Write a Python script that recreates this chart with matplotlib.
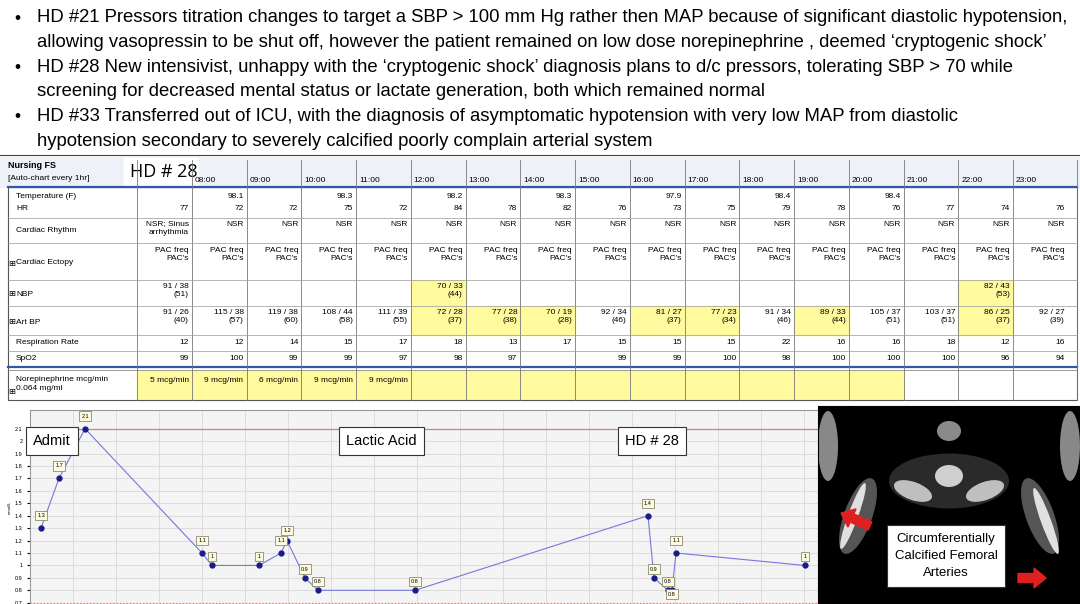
import matplotlib
matplotlib.use("Agg")
import matplotlib.pyplot as plt
from matplotlib.patches import Rectangle, Ellipse, FancyArrow

W, H = 1080, 604

# ---- text ----
bullets = [
    ["HD #21 Pressors titration changes to target a SBP > 100 mm Hg rather then MAP because of significant diastolic hypotension,",
     "allowing vasopressin to be shut off, however the patient remained on low dose norepinephrine , deemed \u2018cryptogenic shock\u2019"],
    ["HD #28 New intensivist, unhappy with the \u2018cryptogenic shock\u2019 diagnosis plans to d/c pressors, tolerating SBP > 70 while",
     "screening for decreased mental status or lactate generation, both which remained normal"],
    ["HD #33 Transferred out of ICU, with the diagnosis of asymptomatic hypotension with very low MAP from diastolic",
     "hypotension secondary to severely calcified poorly complain arterial system"],
]

# ---- flowsheet ----
hours = ["", "08:00", "09:00", "10:00", "11:00", "12:00", "13:00", "14:00", "15:00",
         "16:00", "17:00", "18:00", "19:00", "20:00", "21:00", "22:00", "23:00"]
temp = ["", "98.1", "", "98.3", "", "98.2", "", "98.3", "", "97.9", "", "98.4", "", "98.4", "", "", ""]
hr = [77, 72, 72, 75, 72, 84, 78, 82, 76, 73, 75, 79, 78, 76, 77, 74, 76]
rhythm = ["NSR; Sinus\narrhythmia"] + ["NSR"] * 16
ectopy = ["PAC freq\nPAC's"] * 17
nbp = {0: "91 / 38\n(51)", 5: "70 / 33\n(44)", 15: "82 / 43\n(53)"}
nbp_low = [5, 15]
art_bp = ["91 / 26\n(40)", "115 / 38\n(57)", "119 / 38\n(60)", "108 / 44\n(58)", "111 / 39\n(55)",
          "72 / 28\n(37)", "77 / 28\n(38)", "70 / 19\n(28)", "92 / 34\n(46)", "81 / 27\n(37)",
          "77 / 23\n(34)", "91 / 34\n(46)", "89 / 33\n(44)", "105 / 37\n(51)", "103 / 37\n(51)",
          "86 / 25\n(37)", "92 / 27\n(39)"]
art_low = [5, 6, 7, 9, 10, 12, 15]
resp = [12, 12, 14, 15, 17, 18, 13, 17, 15, 15, 15, 22, 16, 16, 18, 12, 16]
spo2 = [99, 100, 99, 99, 97, 98, 97, "", 99, 99, 100, 98, 100, 100, 100, 96, 94]
norepi = ["5 mcg/min", "9 mcg/min", "6 mcg/min", "9 mcg/min", "9 mcg/min"]
norepi_cols = 14

# ---- lactic acid trend ----
lac_x = [41, 59, 85, 202, 212, 259, 281, 287, 305, 318, 415, 648, 654, 668, 672, 676, 805]
lac_y = [1.3, 1.7, 2.1, 1.1, 1.0, 1.0, 1.1, 1.2, 0.9, 0.8, 0.8, 1.4, 0.9, 0.8, 0.8, 1.1, 1.0]
lac_lbl_dy = [0.1, 0.1, 0.1, 0.1, 0.07, 0.07, 0.1, 0.08, 0.07, 0.07, 0.07, 0.1, 0.07, 0.07, -0.03, 0.1, 0.07]

fig = plt.figure(figsize=(W / 100, H / 100), dpi=100)
plt.rcParams["font.family"] = "Liberation Sans"


def px_axes(x, y, w, h, z=1):
    return fig.add_axes([x / W, 1 - (y + h) / H, w / W, h / H], zorder=z)


base = px_axes(0, 0, W, H)
base.set_xlim(0, W)
base.set_ylim(H, 0)
base.axis("off")

ty = 18
for b in bullets:
    base.text(14, ty, "\u2022", fontsize=12.5, va="center")
    for line in b:
        base.text(37, ty, line, fontsize=13.3, va="center")
        ty += 24.6

# table frame
x0, cw = 137, 54.75
rows = [187, 218, 243, 280, 306, 335, 351, 367]
base.add_patch(Rectangle((0, 157), W, 30, color="#eef2f8", zorder=0))
base.add_patch(Rectangle((8, 187), 1069, 213, fill=False, ec="#555555", lw=0.8))
base.plot([8, 1077], [187, 187], color="#3355aa", lw=1.6)
base.plot([8, 1077], [367, 367], color="#3355aa", lw=1.6)
base.plot([8, 1077], [370, 370], color="#888888", lw=0.6)
base.plot([0, W], [155, 155], color="#444444", lw=0.8)
base.text(8, 165, "Nursing FS", fontsize=6.5, weight="bold", va="center")
base.text(8, 179, "[Auto-chart every 1hr]", fontsize=6, va="center")
base.add_patch(Rectangle((124, 158), 74, 27, color="white", zorder=1))
base.text(130, 172, "HD # 28", fontsize=13, va="center", zorder=2, family="Open Sans")

for i, hname in enumerate(hours):
    cx = x0 + i * cw
    base.plot([cx, cx], [160, 400], color="#777777", lw=0.6)
    base.text(cx + 3, 180, hname, fontsize=6, va="center")
base.plot([1077, 1077], [160, 400], color="#777777", lw=0.6)
for ry in rows[1:-1]:
    base.plot([8, 1077], [ry, ry], color="#999999", lw=0.5)

labels = [("Temperature (F)", 197, False), ("HR", 208, False), ("Cardiac Rhythm", 230, False),
          ("Cardiac Ectopy", 263, True), ("NBP", 294, True), ("Art BP", 322, True),
          ("Respiration Rate", 343, False), ("SpO2", 359, False)]
for t, y, plus in labels:
    if plus:
        base.text(8, y, "\u229e", fontsize=6, va="center", family="DejaVu Sans")
    base.text(16, y, t, fontsize=6, va="center")
base.text(8, 392, "\u229e", fontsize=6, va="center", family="DejaVu Sans")
base.text(16, 384, "Norepinephrine mcg/min\n0.064 mg/ml", fontsize=6, va="center", linespacing=1.3)

yellow = "#fffa9e"
for i in art_low:
    base.add_patch(Rectangle((x0 + i * cw, 306), cw, 29, color=yellow, zorder=0))
for i in nbp_low:
    base.add_patch(Rectangle((x0 + i * cw, 280), cw, 26, color=yellow, zorder=0))
for i in range(norepi_cols):
    base.add_patch(Rectangle((x0 + i * cw, 371), cw, 29, color=yellow, zorder=0))

fs = 6
for i in range(17):
    rx = x0 + (i + 1) * cw - 3
    base.text(rx, 197, temp[i], fontsize=fs, ha="right", va="center")
    base.text(rx, 208, str(hr[i]), fontsize=fs, ha="right", va="center")
    if "\n" in rhythm[i]:
        base.text(rx, 220, rhythm[i], fontsize=fs, ha="right", va="top", linespacing=1.3)
    else:
        base.text(rx, 225, rhythm[i], fontsize=fs, ha="right", va="center")
    base.text(rx, 247, ectopy[i], fontsize=fs, ha="right", va="top", linespacing=1.3)
    if i in nbp:
        base.text(rx, 283, nbp[i], fontsize=fs, ha="right", va="top", linespacing=1.3)
    base.text(rx, 309, art_bp[i], fontsize=fs, ha="right", va="top", linespacing=1.3)
    base.text(rx, 343, str(resp[i]), fontsize=fs, ha="right", va="center")
    base.text(rx, 359, str(spo2[i]), fontsize=fs, ha="right", va="center")
    if i < len(norepi):
        base.text(rx, 380, norepi[i], fontsize=fs, ha="right", va="center")

# ---- lactic acid chart ----
ax = px_axes(30, 410, 1050, 194, z=2)
ax.set_facecolor("#f4f4f4")
ax.set_xlim(30, 1080)
ax.set_ylim(0.69, 2.25)
ax.set_yticks([0.7 + 0.1 * k for k in range(15)])
ax.set_yticklabels([f"{0.7 + 0.1 * k:.1f}".rstrip("0").rstrip(".") for k in range(15)], fontsize=4)
ax.set_xticks(range(30, 1080, 43))
ax.tick_params(axis="x", length=0, labelbottom=False)
ax.tick_params(axis="y", length=2)
ax.grid(True, color="#d8d8d8", lw=0.6)
ax.axhline(2.1, color="#d08080", lw=0.9)
ax.axhline(0.7, color="#d08080", lw=0.9, ls=":")
ax.plot(lac_x, lac_y, color="#7777dd", lw=0.8, marker="o", ms=3.5, mfc="#1a1a8a", mec="#1a1a8a")
for x, y, d in zip(lac_x, lac_y, lac_lbl_dy):
    ax.text(x, y + d, f"{y:g}", fontsize=4, ha="center", va="center",
            bbox=dict(boxstyle="square,pad=0.4", fc="#fdfbe0", ec="#777755", lw=0.5))
for s, x in [("Admit", 33), ("Lactic Acid", 346), ("HD # 28", 625)]:
    ax.text(x, 2.0, s, fontsize=10.5, va="center",
            bbox=dict(boxstyle="square,pad=0.5", fc="white", ec="#333333", lw=0.8))
ax.set_ylabel("mmol/L", fontsize=3, labelpad=2)
for sp in ax.spines.values():
    sp.set_color("#999999")
for sp in ["right", "bottom"]:
    ax.spines[sp].set_visible(False)

# ---- CT panel ----
ct = px_axes(818, 406, 262, 198, z=3)
ct.set_xlim(0, 262)
ct.set_ylim(198, 0)
ct.set_facecolor("black")
ct.set_xticks([])
ct.set_yticks([])
for (cx, cy, ew, eh, ang, c) in [(131, 75, 120, 55, 0, "#2a2a2a"), (131, 25, 24, 20, 0, "#8a8a8a"),
                                 (131, 70, 28, 22, 0, "#cfcfcf"), (95, 85, 40, 18, 20, "#bfbfbf"),
                                 (167, 85, 40, 18, -20, "#bfbfbf"), (40, 110, 28, 80, 20, "#555555"),
                                 (222, 110, 28, 80, -20, "#555555"), (35, 110, 10, 70, 20, "#e0e0e0"),
                                 (228, 115, 10, 70, -20, "#e0e0e0"), (10, 40, 20, 70, 0, "#888888"),
                                 (252, 40, 20, 70, 0, "#888888")]:
    ct.add_patch(Ellipse((cx, cy), ew, eh, angle=ang, color=c, lw=0))
ct.add_patch(FancyArrow(52, 120, -18, -8, width=9, head_width=20, head_length=12, color="#e02020"))
ct.add_patch(FancyArrow(200, 172, 16, 0, width=9, head_width=20, head_length=12, color="#e02020"))
ct.text(128, 150, "Circumferentially\nCalcified Femoral\nArteries", fontsize=9.5, ha="center", va="center",
        linespacing=1.55, bbox=dict(boxstyle="square,pad=0.6", fc="white", ec="#333333", lw=0.8))

fig.savefig("out.png", dpi=100)
